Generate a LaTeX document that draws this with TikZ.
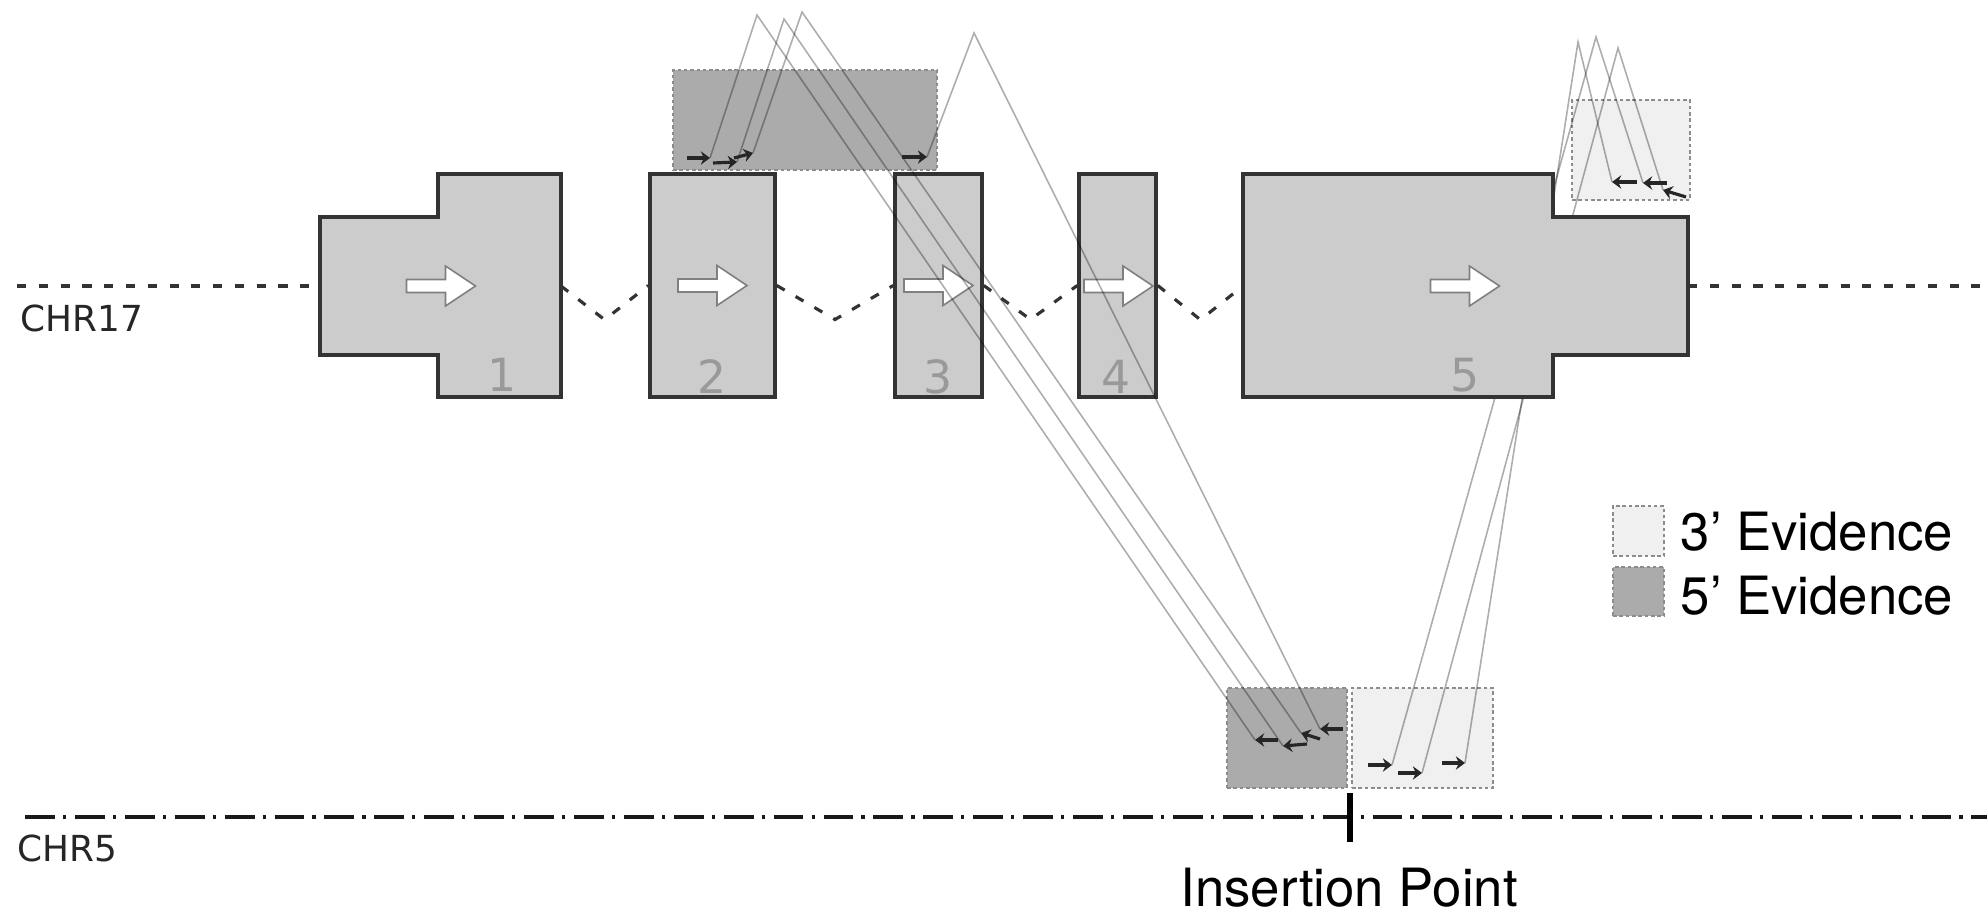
\documentclass[tikz,border=0pt]{standalone}
\usepackage{fontspec}
\newfontfamily\chrfont{DejaVu Sans}
\newfontfamily\keyfont{TeX Gyre Heros}
\usetikzlibrary{calc,arrows.meta}

\begin{document}
\begin{tikzpicture}[
		exon/.style={draw=black!80, fill=black!20, line width=1pt},
		exonbox/.style={exon, rectangle, inner sep=0pt, minimum height=2.23cm},
		num/.style={text=black!40, font=\chrfont\fontsize{13}{13}\selectfont, inner sep=0pt, anchor=base},
		intron/.style={black!80, line width=0.9pt, dash pattern=on 2.6pt off 3.6pt},
		chrfive/.style={black!90, line width=0.9pt, dash pattern=on 8.5pt off 2.3pt on 0.9pt off 2.5pt},
		evid/.style={rectangle, inner sep=0pt, draw=black!45, line width=0.4pt, dash pattern=on 1pt off 0.8pt},
		fiveev/.style={evid, fill=black!33},
		threeev/.style={evid, fill=black!6},
		read/.style={-{Stealth[length=2.6pt, width=3.8pt]}, line width=0.9pt, black!85},
		pair/.style={black, opacity=0.32, line width=0.45pt},
		chr/.style={font=\chrfont\fontsize{10.2}{12}\selectfont, text=black!85, inner sep=0pt, anchor=base west},
		key/.style={font=\keyfont\fontsize{15}{18}\selectfont, inner sep=0pt, anchor=base west},
		exarrow/.pic={\draw[draw=black!50, fill=white, line width=0.45pt] (-0.345,0.065) -- (0.045,0.065) -- (0.045,0.20) -- (0.345,0) -- (0.045,-0.20) -- (0.045,-0.065) -- (-0.345,-0.065) -- cycle;}]
		
		\useasboundingbox (0,0) rectangle (19.87,9.12);
		
		% evidence boxes
		\node[fiveev, minimum width=2.64cm, minimum height=1cm] (ev5top) at (8.05, 7.92) {};
		\node[threeev, minimum width=1.18cm, minimum height=1cm] (ev3top) at (16.31, 7.62) {};
		\node[fiveev, minimum width=1.20cm, minimum height=1cm] (ev5bot) at (12.87, 1.74) {};
		\node[threeev, minimum width=1.41cm, minimum height=1cm] (ev3bot) at (14.225, 1.74) {};
		
		% CHR17 with exons
		\node[chr] (chr17) at (0.20, 5.80) {CHR17};
		\coordinate (c17w) at (0.17, 6.26);
		\coordinate (c17e) at (19.87, 6.26);
		\coordinate (ex1w) at (3.20, 6.26);
		\coordinate (ex1e) at (5.61, 6.26);
		\coordinate (ex5w) at (12.43, 6.26);
		\coordinate (ex5e) at (16.88, 6.26);
		
		\draw[exon] (3.20, 5.57) -- (3.20, 6.95) -- (4.38, 6.95) -- (4.38, 7.38) -- (5.61, 7.38) -- (5.61, 5.15) -- (4.38, 5.15) -- (4.38, 5.57) -- cycle;
		\node[exonbox, minimum width=1.25cm] (ex2) at (7.125, 6.265) {};
		\node[exonbox, minimum width=0.87cm] (ex3) at (9.385, 6.265) {};
		\node[exonbox, minimum width=0.77cm] (ex4) at (11.175, 6.265) {};
		
		\draw[intron] (c17w) -- (ex1w);
		\draw[intron] (ex1e) -- ($(ex1e)!0.5!(ex2.west) + (0, -0.34)$) -- (ex2.west);
		\draw[intron] (ex2.east) -- ($(ex2.east)!0.5!(ex3.west) + (0, -0.34)$) -- (ex3.west);
		\draw[intron] (ex3.east) -- ($(ex3.east)!0.5!(ex4.west) + (0, -0.34)$) -- (ex4.west);
		\draw[intron] (ex4.east) -- ($(ex4.east)!0.5!(ex5w) + (0, -0.34)$) -- (ex5w);
		\draw[intron] (ex5e) -- (c17e);
		
		\pic at (4.41, 6.26) {exarrow};
		\pic at (ex2) {exarrow};
		\pic at (ex3) {exarrow};
		\pic at (11.185, 6.26) {exarrow};
		
		\node[num] (n1) at (5.02, 5.20) {1};
		\node[num] (n2) at ($(ex2.south) + (0, 0.05)$) {2};
		\node[num] (n3) at ($(ex3.south) + (0, 0.05)$) {3};
		\node[num] (n4) at ($(ex4.south) + (-0.01, 0.05)$) {4};
		
		% read pairs, 5' side
		\coordinate (tA) at (6.87, 7.54);   \coordinate (hA) at (7.10, 7.54);
		\coordinate (tB) at (7.13, 7.49);   \coordinate (hB) at (7.37, 7.50);
		\coordinate (tC) at (7.34, 7.54);   \coordinate (hC) at (7.53, 7.59);
		\coordinate (tD) at (9.02, 7.55);   \coordinate (hD) at (9.27, 7.55);
		\coordinate (pk1) at (7.57, 8.97);
		\coordinate (pk2) at (7.84, 8.93);
		\coordinate (pk3) at (8.02, 9.00);
		\coordinate (pk4) at (9.74, 8.79);
		\coordinate (ta) at (12.78, 1.72);  \coordinate (ha) at (12.55, 1.72);
		\coordinate (tb) at (13.07, 1.68);  \coordinate (hb) at (12.83, 1.66);
		\coordinate (tc) at (13.20, 1.73);  \coordinate (hc) at (13.01, 1.79);
		\coordinate (td) at (13.43, 1.83);  \coordinate (hd) at (13.20, 1.83);
		
		\draw[pair] (hA) -- (pk1) -- (ha);
		\draw[pair] (hB) -- (pk2) -- (hb);
		\draw[pair] (hC) -- (pk3) -- (hc);
		\draw[pair] (hD) -- (pk4) -- (hd);
		
		% read pairs, 3' side
		\coordinate (te) at (16.37, 7.30);  \coordinate (he) at (16.12, 7.30);
		\coordinate (tf) at (16.67, 7.29);  \coordinate (hf) at (16.43, 7.29);
		\coordinate (tg) at (16.86, 7.15);  \coordinate (hg) at (16.63, 7.22);
		\coordinate (qk1) at (15.78, 8.70);
		\coordinate (qk2) at (15.96, 8.75);
		\coordinate (qk3) at (16.18, 8.64);
		\coordinate (th) at (13.68, 1.47);  \coordinate (hh) at (13.92, 1.47);
		\coordinate (ti) at (13.98, 1.39);  \coordinate (hi) at (14.22, 1.39);
		\coordinate (tj) at (14.42, 1.49);  \coordinate (hj) at (14.65, 1.49);
		
		\draw[pair] (he) -- (qk1) -- (hj);
		\draw[pair] (hf) -- (qk2) -- (hh);
		\draw[pair] (hg) -- (qk3) -- (hi);
		
		% last exon covers the lines
		\draw[exon] (12.43, 5.15) -- (12.43, 7.38) -- (15.53, 7.38) -- (15.53, 6.95) -- (16.88, 6.95) -- (16.88, 5.57) -- (15.53, 5.57) -- (15.53, 5.15) -- cycle;
		\pic at (14.65, 6.26) {exarrow};
		\node[num] (n5) at (14.65, 5.20) {5};
		
		\draw (tA) edge[read] (hA);
		\draw (tB) edge[read] (hB);
		\draw (tC) edge[read] (hC);
		\draw (tD) edge[read] (hD);
		\draw (ta) edge[read] (ha);
		\draw (tb) edge[read] (hb);
		\draw (tc) edge[read] (hc);
		\draw (td) edge[read] (hd);
		\draw (te) edge[read] (he);
		\draw (tf) edge[read] (hf);
		\draw (tg) edge[read] (hg);
		\draw (th) edge[read] (hh);
		\draw (ti) edge[read] (hi);
		\draw (tj) edge[read] (hj);
		
		% CHR5
		\node[chr] (chr5) at (0.17, 0.51) {CHR5};
		\coordinate (c5w) at (0.25, 0.95);
		\coordinate (c5e) at (19.87, 0.95);
		\draw[chrfive] (c5w) -- (c5e);
		\coordinate (ins) at (13.50, 0.95);
		\draw[line width=1.7pt] ($(ins) + (0, 0.24)$) -- ($(ins) + (0, -0.25)$);
		\node[key, anchor=base] (inslabel) at (13.49, 0.06) {Insertion Point};
		
		% key
		\node[threeev, minimum width=0.51cm, minimum height=0.50cm] (key3) at (16.385, 3.81) {};
		\node[fiveev, minimum width=0.51cm, minimum height=0.49cm] (key5) at (16.385, 3.205) {};
		\node[key] (key3text) at (16.80, 3.62) {3’ Evidence};
		\node[key] (key5text) at (16.80, 2.98) {5’ Evidence};
		
	\end{tikzpicture}
\end{document}
